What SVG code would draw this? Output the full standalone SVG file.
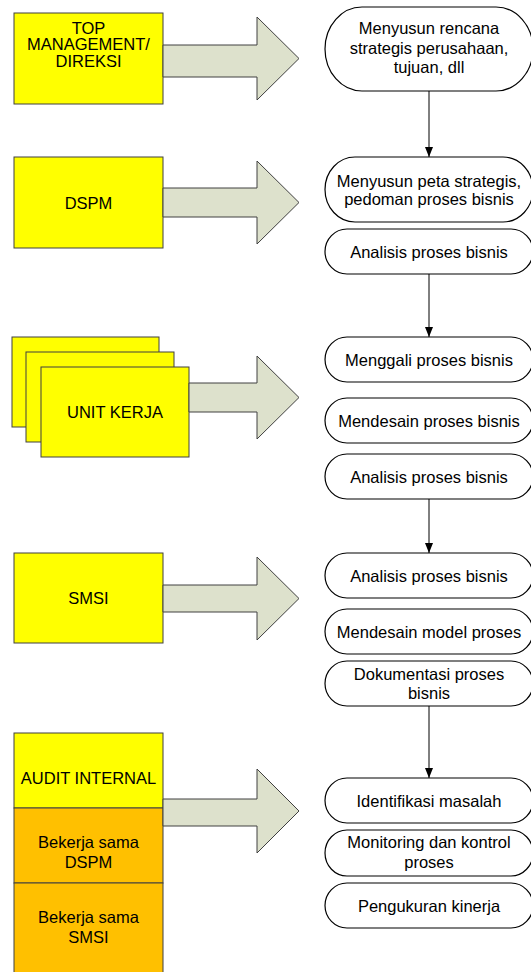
<svg xmlns="http://www.w3.org/2000/svg" width="531" height="972" viewBox="0 0 531 972">
  <defs>
    <style>
      .t { font-family: "Liberation Sans", Arial, sans-serif; font-size: 16.5px; fill: #000; text-anchor: middle; }
      .box { stroke: #404040; stroke-width: 1; }
      .yellow { fill: #FFFF00; }
      .orange { fill: #FFC000; }
      .bigarrow { fill: #DDE1CC; stroke: #404040; stroke-width: 1; stroke-linejoin: miter; }
      .pill { fill: #FFFFFF; stroke: #000; stroke-width: 1.2; }
      .conn { stroke: #000; stroke-width: 1; fill: none; }
    </style>
    <marker id="arrowhead" viewBox="0 0 10 8" refX="10" refY="4" markerWidth="10" markerHeight="8" markerUnits="userSpaceOnUse" orient="auto">
      <path d="M0,0 L10,4 L0,8 Z" fill="#000"/>
    </marker>
  </defs>

  <!-- Actors -->
  <g id="top-management">
    <rect class="box yellow" x="14" y="13" width="149" height="91"/>
    <text class="t" x="88.5" y="33.5">TOP</text>
    <text class="t" x="88.5" y="50">MANAGEMENT/</text>
    <text class="t" x="88.5" y="66.5">DIREKSI</text>
  </g>

  <g id="dspm">
    <rect class="box yellow" x="14" y="157" width="149" height="91"/>
    <text class="t" x="88.5" y="208.5">DSPM</text>
  </g>

  <g id="unit-kerja">
    <rect class="box yellow" x="12" y="337" width="147" height="90"/>
    <rect class="box yellow" x="26" y="352" width="148" height="90"/>
    <rect class="box yellow" x="41" y="367" width="148" height="90"/>
    <text class="t" x="115" y="418">UNIT KERJA</text>
  </g>

  <g id="smsi">
    <rect class="box yellow" x="14" y="553" width="149" height="90"/>
    <text class="t" x="88.5" y="604">SMSI</text>
  </g>

  <g id="audit-internal">
    <rect class="box yellow" x="14" y="733" width="149" height="75"/>
    <rect class="box orange" x="14" y="808" width="149" height="75"/>
    <rect class="box orange" x="14" y="883" width="149" height="100"/>
    <text class="t" x="88.5" y="784">AUDIT INTERNAL</text>
    <text class="t" x="88.5" y="848">Bekerja sama</text>
    <text class="t" x="88.5" y="868">DSPM</text>
    <text class="t" x="88.5" y="923">Bekerja sama</text>
    <text class="t" x="88.5" y="943">SMSI</text>
  </g>

  <!-- Block arrows from each actor to its activities -->
  <g id="block-arrows">
    <path class="bigarrow" d="M163,45 L257,45 L257,17 L299,58.5 L257,100 L257,77 L163,77 Z"/>
    <path class="bigarrow" d="M163,188 L257,188 L257,161 L299,202.5 L257,244 L257,217 L163,217 Z"/>
    <path class="bigarrow" d="M189,383 L257,383 L257,356 L299,397.5 L257,439 L257,412 L189,412 Z"/>
    <path class="bigarrow" d="M163,585 L257,585 L257,557 L299,598.5 L257,640 L257,612 L163,612 Z"/>
    <path class="bigarrow" d="M163,799 L257,799 L257,769 L299,811 L257,853 L257,826 L163,826 Z"/>
  </g>

  <!-- Activities -->
  <g id="act-rencana">
    <path class="pill" d="M362,7 L496,7 A37,42 0 0 1 496,91 L362,91 A37,42 0 0 1 362,7 Z"/>
    <text class="t" x="429" y="33.5">Menyusun rencana</text>
    <text class="t" x="429" y="53.5">strategis perusahaan,</text>
    <text class="t" x="429" y="73">tujuan, dll</text>
  </g>

  <g id="act-peta">
    <path class="pill" d="M355,157 L503,157 A30,32.5 0 0 1 503,222 L355,222 A30,32.5 0 0 1 355,157 Z"/>
    <text class="t" x="429" y="186.5">Menyusun peta strategis,</text>
    <text class="t" x="429" y="205">pedoman proses bisnis</text>
  </g>

  <g id="act-analisis-1">
    <path class="pill" d="M347,229 L511,229 A22,22.5 0 0 1 511,274 L347,274 A22,22.5 0 0 1 347,229 Z"/>
    <text class="t" x="429" y="257.5">Analisis proses bisnis</text>
  </g>

  <g id="act-menggali">
    <path class="pill" d="M347,337 L511,337 A22,22.5 0 0 1 511,382 L347,382 A22,22.5 0 0 1 347,337 Z"/>
    <text class="t" x="429" y="365.5">Menggali proses bisnis</text>
  </g>

  <g id="act-mendesain-proses">
    <path class="pill" d="M347,398 L511,398 A22,22.5 0 0 1 511,443 L347,443 A22,22.5 0 0 1 347,398 Z"/>
    <text class="t" x="429" y="426.5">Mendesain proses bisnis</text>
  </g>

  <g id="act-analisis-2">
    <path class="pill" d="M347,454 L511,454 A22,22.5 0 0 1 511,499 L347,499 A22,22.5 0 0 1 347,454 Z"/>
    <text class="t" x="429" y="482.5">Analisis proses bisnis</text>
  </g>

  <g id="act-analisis-3">
    <path class="pill" d="M347,553 L511,553 A22,22.5 0 0 1 511,598 L347,598 A22,22.5 0 0 1 347,553 Z"/>
    <text class="t" x="429" y="581.5">Analisis proses bisnis</text>
  </g>

  <g id="act-model">
    <path class="pill" d="M347,609 L511,609 A22,22.5 0 0 1 511,654 L347,654 A22,22.5 0 0 1 347,609 Z"/>
    <text class="t" x="429" y="637.5">Mendesain model proses</text>
  </g>

  <g id="act-dokumentasi">
    <path class="pill" d="M347,661 L511,661 A22,22.5 0 0 1 511,706 L347,706 A22,22.5 0 0 1 347,661 Z"/>
    <text class="t" x="429" y="680">Dokumentasi proses</text>
    <text class="t" x="429" y="699">bisnis</text>
  </g>

  <g id="act-identifikasi">
    <path class="pill" d="M347,778 L511,778 A22,22.5 0 0 1 511,823 L347,823 A22,22.5 0 0 1 347,778 Z"/>
    <text class="t" x="429" y="806.5">Identifikasi masalah</text>
  </g>

  <g id="act-monitoring">
    <path class="pill" d="M347,830 L511,830 A22,23 0 0 1 511,876 L347,876 A22,23 0 0 1 347,830 Z"/>
    <text class="t" x="429" y="848">Monitoring dan kontrol</text>
    <text class="t" x="429" y="868">proses</text>
  </g>

  <g id="act-kinerja">
    <path class="pill" d="M347,883 L511,883 A22,22.5 0 0 1 511,928 L347,928 A22,22.5 0 0 1 347,883 Z"/>
    <text class="t" x="429" y="911.5">Pengukuran kinerja</text>
  </g>

  <!-- Flow between activity groups -->
  <g id="connectors">
    <line class="conn" x1="429" y1="91" x2="429" y2="157" marker-end="url(#arrowhead)"/>
    <line class="conn" x1="429" y1="274" x2="429" y2="337" marker-end="url(#arrowhead)"/>
    <line class="conn" x1="429" y1="499" x2="429" y2="553" marker-end="url(#arrowhead)"/>
    <line class="conn" x1="429" y1="706" x2="429" y2="778" marker-end="url(#arrowhead)"/>
  </g>
</svg>
